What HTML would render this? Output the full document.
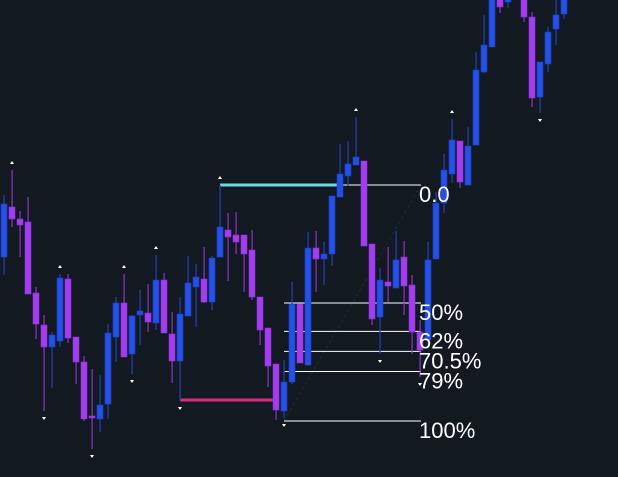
<!DOCTYPE html>
<html><head><meta charset="utf-8">
<style>
html,body{margin:0;padding:0;background:#131920;}
#chart{display:block;width:618px;height:477px;}
text{font-family:"Liberation Sans",sans-serif;}
</style></head>
<body>
<svg id="chart" width="618" height="477" viewBox="0 0 618 477" xmlns="http://www.w3.org/2000/svg">
<rect width="618" height="477" fill="#131920"/>
<g id="fibg"></g>
<g id="candles"></g>
<g id="marks"></g>
<g id="fibtext"></g>
</svg>
<script>
const opens  = [220,270,258,255,184,152,130,136,198,140,115,61,58,73,140,174,123,162,164,154,197,143,116,161,190,198,175,220,247,242,242,227,180,149,113,66,95,173,112,229,218,223,280,301,312,316,233,160,195,189,220,192,145,137,218,274,303,336,292,332,405,430,497,475,500,487,460,380,413,448,463];
const closes = [273,258,252,183,153,130,142,199,139,115,58,59,72,144,174,120,161,166,155,197,144,116,163,194,200,175,219,250,240,235,223,180,147,111,67,95,173,114,229,218,223,281,303,313,320,231,158,197,191,217,191,145,127,217,274,307,337,295,331,407,432,487,470,492,520,460,379,415,445,462,490];
const highs  = [282,307,266,280,190,162,145,203,203,140,121,108,102,153,180,203,162,187,193,222,204,165,180,221,213,230,221,292,264,265,242,247,180,149,113,117,195,173,245,246,235,281,333,336,360,316,233,209,230,246,236,202,157,235,285,323,358,336,350,425,462,495,500,500,530,490,465,415,450,482,495];
const lows   = [202,250,220,183,138,66,89,130,134,93,56,28,45,58,115,120,103,132,145,147,144,94,76,161,150,174,167,220,196,223,185,177,132,90,57,59,93,114,111,185,192,211,280,291,312,231,152,123,175,189,162,123,100,132,218,264,294,289,292,332,404,430,464,469,480,455,370,364,405,432,458];
const upMarkers   = [1,7,15,19,27,44,56];
const downMarkers = [5,11,16,22,35,47,52,67];
const fibHigh = 292, fibLow = 56;
const fibLevels = [0,0.5,0.62,0.705,0.79,1];
const fibLabels = ["0.0","50%","62%","70.5%","79%","100%"];

const H = 477;
const NS = "http://www.w3.org/2000/svg";
function yS(p){return H - p;}
function xS(i){return 4 + 8*i;}
function mk(tag, attrs, parent){const e=document.createElementNS(NS,tag);for(const k in attrs)e.setAttribute(k,attrs[k]);parent.appendChild(e);return e;}

const cg = document.getElementById('candles');
for(let i=0;i<opens.length;i++){
  const up = closes[i] >= opens[i];
  const body = up ? "#2450e8" : "#a23ef0";
  const wick = up ? "#2440b8" : "#8a34cc";
  const x = xS(i);
  const g = mk('g',{},cg);
  
  
  mk('rect',{x:x-0.5,y:yS(highs[i]),width:1.2,height:Math.max(1,highs[i]-lows[i]),fill:wick},g);
  const top = Math.max(opens[i],closes[i]), bot = Math.min(opens[i],closes[i]);
  mk('rect',{x:x-3,y:yS(top),width:6,height:Math.max(2,top-bot),fill:body,stroke:up?"#1c3cc8":"#8e30d8","stroke-width":0.6},g);
}

// fib drawing
const fg = document.getElementById('fibg');
const ft = document.getElementById('fibtext');
const yTop = yS(fibHigh), yBot = yS(fibLow);
const diag = mk('line',{x1:284,y1:yBot,x2:421,y2:yTop,stroke:"#262c34","stroke-width":1,"stroke-dasharray":"3 3"},fg);


const cy = mk('line',{x1:220,y1:yTop,x2:340,y2:yTop,stroke:"#6fd8e4","stroke-width":3},fg);


const pk = mk('line',{x1:180,y1:400,x2:276,y2:400,stroke:"#d8297c","stroke-width":3},fg);


for(let k=0;k<fibLevels.length;k++){
  const y = yTop + (yBot-yTop)*fibLevels[k];
  const x1 = k===0 ? 340 : 284;
  const ln = mk('line',{x1:x1,y1:y,x2:421,y2:y,stroke:"#ffffff","stroke-width":1},fg);
  
  
  const t = mk('text',{x:419,y:y+17,fill:"#ffffff","font-size":22},ft);
  t.textContent = fibLabels[k];
  
  
}

// markers
const mg = document.getElementById('marks');
for(const i of upMarkers){
  const x=xS(i), y=yS(highs[i])-8;
  const m = mk('path',{d:`M${x-2},${y+2} L${x+2},${y+2} L${x},${y-1} Z`,fill:"#ffffff"},mg);
  
  
}
for(const i of downMarkers){
  const x=xS(i), y=yS(lows[i])+7;
  const m = mk('path',{d:`M${x-2},${y-1} L${x+2},${y-1} L${x},${y+2} Z`,fill:"#ffffff"},mg);
  
  
}
</script>
</body></html>
